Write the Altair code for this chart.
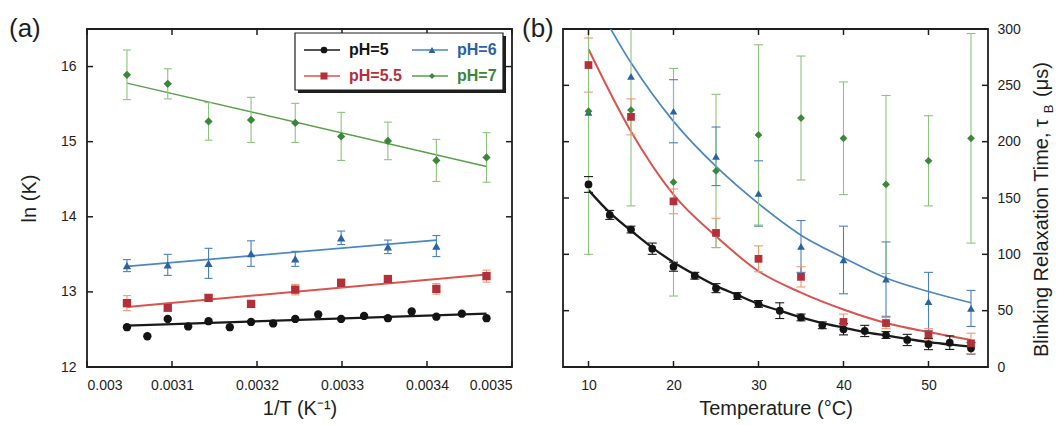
import altair as alt
import pandas as pd

FONT = "Liberation Sans"
INK = "#1e1e1e"

# ---------------- series definitions ----------------
SERIES = ["pH=5", "pH=5.5", "pH=6", "pH=7"]
PT_COLORS = ["#141414", "#b3303b", "#2b62a0", "#3b8739"]
LINE_COLORS = ["#1a1a1a", "#d9534f", "#4a87c2", "#5a9f4b"]
ERR_COLORS = ["#1a1a1a", "#ec9a70", "#4b7fc0", "#8cc47c"]
SHAPES = ["circle", "square", "triangle-up", "diamond"]

# ---------------- panel (a): ln(K) vs 1/T ----------------
invT_fine = [0.003047, 0.003071, 0.003095, 0.003119, 0.003143, 0.003168, 0.003193,
             0.003219, 0.003245, 0.003272, 0.003299, 0.003326, 0.003354, 0.003382,
             0.003411, 0.003441, 0.003470]
invT = [0.003047, 0.003095, 0.003143, 0.003193, 0.003245, 0.003299, 0.003354, 0.003411, 0.003470]

lnK_pH5 = [12.53, 12.41, 12.64, 12.54, 12.61, 12.53, 12.60, 12.58, 12.64, 12.70,
           12.64, 12.68, 12.65, 12.74, 12.67, 12.71, 12.65]
lnK_pH55 = [12.85, 12.79, 12.92, 12.84, 13.03, 13.12, 13.17, 13.04, 13.21]
err_pH55 = [0.10, 0.05, 0.04, 0.04, 0.07, 0.05, 0.05, 0.07, 0.08]
lnK_pH6 = [13.35, 13.36, 13.38, 13.51, 13.44, 13.72, 13.60, 13.61]
err_pH6 = [0.08, 0.14, 0.20, 0.17, 0.10, 0.09, 0.09, 0.14]
lnK_pH7 = [15.89, 15.77, 15.27, 15.29, 15.25, 15.07, 15.01, 14.75, 14.79]
err_pH7 = [0.33, 0.20, 0.25, 0.30, 0.26, 0.32, 0.25, 0.28, 0.33]

# linear fits (end points)
fitA_x = {"pH=5": [0.003047, 0.003470], "pH=5.5": [0.003047, 0.003470],
          "pH=6": [0.003047, 0.003411], "pH=7": [0.003047, 0.003470]}
fitA_y = {"pH=5": [12.55, 12.71], "pH=5.5": [12.80, 13.23],
          "pH=6": [13.34, 13.69], "pH=7": [15.78, 14.67]}

xticks_a = [0.003, 0.0031, 0.0032, 0.0033, 0.0034, 0.0035]
yticks_a = [12, 13, 14, 15, 16]

# ---------------- panel (b): relaxation time vs temperature ----------------
T_fine = [10, 12.5, 15, 17.5, 20, 22.5, 25, 27.5, 30, 32.5, 35, 37.5, 40, 42.5, 45, 47.5, 50, 52.5, 55]
T_coarse = [10, 15, 20, 25, 30, 35, 40, 45, 50, 55]

tau_pH5 = [162, 135, 122, 105, 89, 81, 70, 63, 56, 50, 44, 37, 33.5, 32, 28.4, 24, 20.4, 21.6, 16.6]
errtau_pH5 = [7, 4, 3, 5, 4, 3, 4, 3, 3, 7, 3, 3, 5, 5, 3, 5, 5, 6, 5]
fittau_pH5 = [157, 137, 121, 106, 93, 82, 72, 64, 56, 50, 44, 39, 35, 31, 28, 25, 22, 20, 18]

tau_pH55 = [268, 222, 147, 119, 96, 80, 40, 39, 29, 21]
errtau_pH55 = [24, 16, 11, 13, 11.5, 9, 7, 5, 5, 9]
fittau_pH55 = [282, 209, 153, 116, 85, 66, 51, 39, 31, 24]

tau_pH6 = [226, 258, 227, 187, 154, 107, 95, 78, 58, 52]
errtau_pH6 = [None, None, 28, 26, 29, 23, 30, 33, 26, 16]
fittau_pH6 = [335, 270, 218, 178, 145, 117, 97, 79, 67, 57]

tau_pH7 = [227, 228, 164, 174, 206, 221, 203, 162, 183, 203]
errtau_pH7 = [127, 85, 101, 68, 80, 55, 50, 79, 40, 93]

xticks_b = [10, 20, 30, 40, 50]
yticks_b = [0, 50, 100, 150, 200, 250, 300]

W, H = 425, 338


def frame(xs, ys, s, err=None):
    d = pd.DataFrame({"x": xs, "y": ys, "series": s})
    d["err"] = pd.Series(err if err is not None else [None] * len(xs), dtype="float64")
    return d


pa = pd.concat([
    frame(invT_fine, lnK_pH5, "pH=5"),
    frame(invT, lnK_pH55, "pH=5.5", err_pH55),
    frame(invT[:len(lnK_pH6)], lnK_pH6, "pH=6", err_pH6),
    frame(invT, lnK_pH7, "pH=7", err_pH7),
], ignore_index=True)
pa["lo"] = pa["y"] - pa["err"]
pa["hi"] = pa["y"] + pa["err"]
ea = pa.dropna(subset=["err"])

fa = pd.concat([pd.DataFrame({"x": fitA_x[s], "y": fitA_y[s], "series": s}) for s in SERIES],
               ignore_index=True)

pb = pd.concat([
    frame(T_fine, tau_pH5, "pH=5", errtau_pH5),
    frame(T_coarse, tau_pH55, "pH=5.5", errtau_pH55),
    frame(T_coarse, tau_pH6, "pH=6", errtau_pH6),
    frame(T_coarse, tau_pH7, "pH=7", errtau_pH7),
], ignore_index=True)
pb["lo"] = pb["y"] - pb["err"]
pb["hi"] = pb["y"] + pb["err"]
eb = pb.dropna(subset=["err"])

fb = pd.concat([
    pd.DataFrame({"x": T_fine, "y": fittau_pH5, "series": "pH=5"}),
    pd.DataFrame({"x": T_coarse, "y": fittau_pH55, "series": "pH=5.5"}),
    pd.DataFrame({"x": T_coarse, "y": fittau_pH6, "series": "pH=6"}),
], ignore_index=True)


def cscale(rng):
    return alt.Scale(domain=SERIES, range=rng)


def build_panel(pts, errs, fits, xs, ys, xaxis, yaxis, sizes, cap, xt, yt_left, yt_right, interp):
    X = lambda f="x": alt.X(f"{f}:Q", scale=xs, axis=xaxis)
    Y = lambda f="y": alt.Y(f"{f}:Q", scale=ys, axis=yaxis)
    layers = []
    layers.append(alt.Chart(fits).mark_line(clip=True, interpolate=interp).encode(
        x=X(), y=Y(),
        color=alt.Color("series:N", scale=cscale(LINE_COLORS), legend=None),
        strokeWidth=alt.StrokeWidth("series:N", scale=alt.Scale(domain=SERIES, range=[2.3, 1.4, 1.4, 1.4]), legend=None),
    ))
    ec = alt.Color("series:N", scale=cscale(ERR_COLORS), legend=None)
    layers.append(alt.Chart(errs).mark_rule(clip=True, strokeWidth=1.1).encode(
        x=X(), y=Y("lo"), y2="hi:Q", color=ec))
    for f in ["lo", "hi"]:
        layers.append(alt.Chart(errs).mark_tick(orient="horizontal", size=cap, thickness=1.1, clip=True, opacity=1).encode(
            x=X(), y=Y(f), color=ec))
    layers.append(alt.Chart(pts).mark_point(filled=True, opacity=1, clip=True).encode(
        x=X(), y=Y(),
        color=alt.Color("series:N", scale=cscale(PT_COLORS), legend=None),
        shape=alt.Shape("series:N", scale=alt.Scale(domain=SERIES, range=SHAPES), legend=None),
        size=alt.Size("series:N", scale=alt.Scale(domain=SERIES, range=sizes), legend=None),
    ))
    # inward ticks on all four sides
    tx = pd.DataFrame({"v": xt})
    tl = pd.DataFrame({"v": yt_left})
    tr = pd.DataFrame({"v": yt_right})
    layers.append(alt.Chart(tx).mark_rule(color=INK, strokeWidth=1.5).encode(
        x=X("v"), y=alt.value(H), y2=alt.value(H - 6)))
    layers.append(alt.Chart(tx).mark_rule(color=INK, strokeWidth=1.5).encode(
        x=X("v"), y=alt.value(0), y2=alt.value(6)))
    layers.append(alt.Chart(tl).mark_rule(color=INK, strokeWidth=1.5).encode(
        y=Y("v"), x=alt.value(0), x2=alt.value(6)))
    layers.append(alt.Chart(tr).mark_rule(color=INK, strokeWidth=1.5).encode(
        y=Y("v"), x=alt.value(W), x2=alt.value(W - 6)))
    return layers


axis_common = dict(ticks=False, domain=False, grid=False, labelFontSize=14, labelColor=INK,
                   titleFontSize=20, titleFontWeight="normal", titleColor=INK,
                   labelFont=FONT, titleFont=FONT)

xs_a = alt.Scale(domain=[0.003, 0.0035], nice=False, zero=False)
ys_a = alt.Scale(domain=[12, 16.5], nice=False, zero=False)
ax_a = alt.Axis(values=xticks_a, format=".4~f", labelPadding=11, title="1/T (K⁻¹)", titlePadding=6, **axis_common)
ay_a = alt.Axis(values=yticks_a, format="d", labelPadding=11, title="ln (K)", titlePadding=21, **axis_common)

layers_a = build_panel(pa, ea, fa, xs_a, ys_a, ax_a, ay_a, [70, 68, 62, 48], 8,
                       xticks_a, yticks_a, yticks_a, "linear")

# legend (drawn inside panel a)
layers_a.append(alt.Chart(pd.DataFrame({"k": [0]})).mark_rect(color=INK).encode(
    x=alt.value(211), x2=alt.value(419), y=alt.value(7), y2=alt.value(64)))
layers_a.append(alt.Chart(pd.DataFrame({"k": [0]})).mark_rect(fill="white", stroke=INK, strokeWidth=1.2).encode(
    x=alt.value(208), x2=alt.value(416), y=alt.value(4), y2=alt.value(61)))
LEG_ORDER = ["pH=5", "pH=6", "pH=5.5", "pH=7"]
for i, s in enumerate(LEG_ORDER):
    col, row = i % 2, i // 2
    x0 = 217 + col * 108
    yc = 21 + row * 26
    k = SERIES.index(s)
    d = pd.DataFrame({"label": [s]})
    layers_a.append(alt.Chart(d).mark_rule(color=LINE_COLORS[k], strokeWidth=1.3).encode(
        x=alt.value(x0), x2=alt.value(x0 + 36), y=alt.value(yc)))
    layers_a.append(alt.Chart(d).mark_point(shape=SHAPES[k], filled=True, opacity=1, color=PT_COLORS[k],
                                            size=[45, 50, 45, 35][k]).encode(
        x=alt.value(x0 + 20), y=alt.value(yc)))
    layers_a.append(alt.Chart(d).mark_text(align="left", baseline="middle", font=FONT, fontSize=16,
                                           fontWeight="bold", color=PT_COLORS[k]).encode(
        x=alt.value(x0 + 45), y=alt.value(yc), text="label:N"))

layers_a.append(alt.Chart(pd.DataFrame({"t": ["(a)"]})).mark_text(
    align="left", baseline="top", font=FONT, fontSize=26, color=INK).encode(
    x=alt.value(-78), y=alt.value(-13), text="t:N"))

panel_a = alt.layer(*layers_a).resolve_scale(
    color="independent", shape="independent", size="independent", strokeWidth="independent"
).properties(width=W, height=H)

xs_b = alt.Scale(domain=[7, 57], nice=False, zero=False)
ys_b = alt.Scale(domain=[0, 300], nice=False, zero=False)
ax_b = alt.Axis(values=xticks_b, format="d", labelPadding=11, title="Temperature (°C)", titlePadding=6, **axis_common)
ay_b = alt.Axis(values=yticks_b, format="d", orient="right", labelPadding=9, title="", **axis_common)

layers_b = build_panel(pb, eb, fb, xs_b, ys_b, ax_b, ay_b, [60, 60, 60, 42], 9,
                       xticks_b, [50, 100, 150, 200, 250], yticks_b, "monotone")

layers_b.append(alt.Chart(pd.DataFrame({"t": ["(b)"]})).mark_text(
    align="left", baseline="top", font=FONT, fontSize=26, color=INK).encode(
    x=alt.value(-41), y=alt.value(-13), text="t:N"))

# right axis title with subscript
title_parts = pd.DataFrame({"t": ["Blinking Relaxation Time, τ", "B", "(μs)"]})
layers_b.append(alt.Chart(title_parts.iloc[[0]]).mark_text(
    align="left", baseline="middle", angle=270, font=FONT, fontSize=20, color=INK).encode(
    x=alt.value(479), y=alt.value(328), text="t:N"))
layers_b.append(alt.Chart(title_parts.iloc[[1]]).mark_text(
    align="center", baseline="middle", angle=270, font=FONT, fontSize=13, color=INK).encode(
    x=alt.value(486), y=alt.value(80), text="t:N"))
layers_b.append(alt.Chart(title_parts.iloc[[2]]).mark_text(
    align="left", baseline="middle", angle=270, font=FONT, fontSize=20, color=INK).encode(
    x=alt.value(479), y=alt.value(68), text="t:N"))

panel_b = alt.layer(*layers_b).resolve_scale(
    color="independent", shape="independent", size="independent", strokeWidth="independent"
).properties(width=W, height=H)

chart = alt.hconcat(panel_a, panel_b, spacing=51, bounds="flush").properties(
    padding={"left": 8, "top": 15, "right": 0, "bottom": 0}, background="white"
).configure_view(stroke=INK, strokeWidth=1.8)

chart.save("out.html", embed_options={"renderer": "svg", "actions": False})
